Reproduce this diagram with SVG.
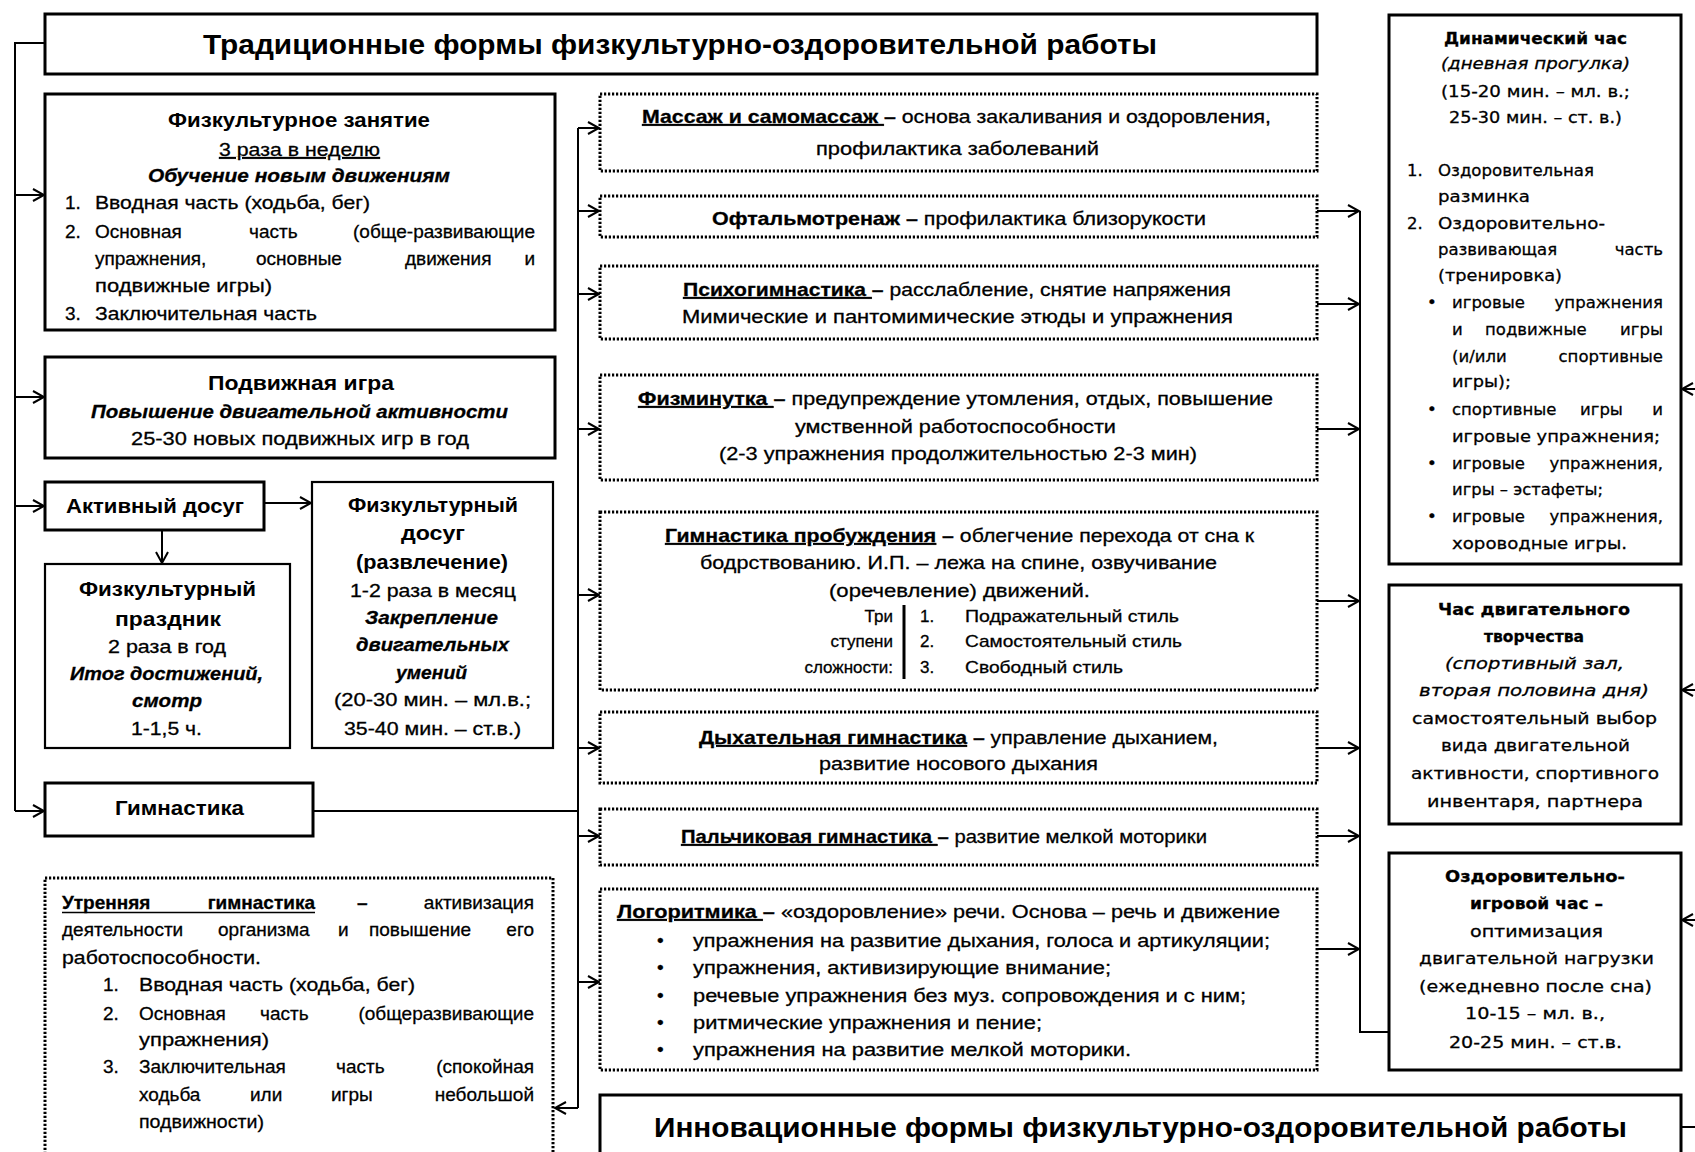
<svg xmlns="http://www.w3.org/2000/svg" width="1695" height="1152" viewBox="0 0 1695 1152">
<defs>
<style>
.t{font-family:"Liberation Sans",Arial,sans-serif;font-size:19px;fill:#000;stroke:#000;stroke-width:0.3}
.h{font-family:"Liberation Sans",Arial,sans-serif;font-size:20px;font-weight:bold;fill:#000}
.v{font-family:"DejaVu Sans",Verdana,sans-serif;font-size:16.5px;fill:#000;stroke:#000;stroke-width:0.3}
.s{font-size:17px}
.big{font-family:"Liberation Sans",Arial,sans-serif;font-size:28px;font-weight:bold;fill:#000}
.b{font-weight:bold}
.i{font-style:italic}
.u{text-decoration:underline}
.e{text-anchor:end}
.solid{fill:#fff;stroke:#000;stroke-width:3}
.thin{fill:#fff;stroke:#000;stroke-width:2.2}
.dot{fill:#fff;stroke:#000;stroke-width:3;stroke-dasharray:2.2 1.8}
.ln{fill:none;stroke:#000;stroke-width:2}
.ar{fill:none;stroke:#000;stroke-width:2;marker-end:url(#arr)}
</style>
<marker id="arr" markerUnits="userSpaceOnUse" markerWidth="14" markerHeight="16" refX="12" refY="7" orient="auto">
<path d="M1,1 L12,7 L1,13" fill="none" stroke="#000" stroke-width="2"/>
</marker>
</defs>
<rect width="1695" height="1152" fill="#fff"/>

<g id="connectors">
<path class="ln" d="M45,43 H15 V811"/>
<path class="ar" d="M15,195 H44"/>
<path class="ar" d="M15,397 H44"/>
<path class="ar" d="M15,506 H44"/>
<path class="ar" d="M15,811 H44"/>
<path class="ar" d="M264,503 H311"/>
<path class="ar" d="M162,531 V563"/>
<path class="ln" d="M313,811 H578"/>
<path class="ln" d="M578,128 V1108"/>
<path class="ar" d="M578,1108 H555"/>
<path class="ar" d="M578,128 H599"/>
<path class="ar" d="M578,211 H599"/>
<path class="ar" d="M578,294 H599"/>
<path class="ar" d="M578,429 H599"/>
<path class="ar" d="M578,595 H599"/>
<path class="ar" d="M578,748 H599"/>
<path class="ar" d="M578,836 H599"/>
<path class="ar" d="M578,982 H599"/>
<path class="ar" d="M1317,211 H1359"/>
<path class="ar" d="M1317,304 H1359"/>
<path class="ar" d="M1317,429 H1359"/>
<path class="ar" d="M1317,601 H1359"/>
<path class="ar" d="M1317,748 H1359"/>
<path class="ar" d="M1317,836 H1359"/>
<path class="ar" d="M1317,949 H1359"/>
<path class="ln" d="M1360,211 V1032 H1389"/>
<path class="ar" d="M1695,389 H1682"/>
<path class="ar" d="M1695,690 H1682"/>
<path class="ar" d="M1695,920 H1682"/>
<path class="ln" d="M1681,1127 H1695"/>
</g>

<g id="title">
<rect class="solid" x="45" y="14" width="1272" height="60"/>
<text class="big" x="203" y="54" textLength="954" lengthAdjust="spacingAndGlyphs">Традиционные формы физкультурно-оздоровительной работы</text>
</g>

<g id="fizkult-zanyatie">
<rect class="solid" x="45" y="94" width="510" height="236" stroke-width="4"/>
<text class="h" x="168" y="127" textLength="262" lengthAdjust="spacingAndGlyphs">Физкультурное занятие</text>
<text class="t u" x="219" y="156" textLength="161" lengthAdjust="spacingAndGlyphs">3 раза в неделю</text>
<text class="t b i" x="148" y="182" textLength="302" lengthAdjust="spacingAndGlyphs">Обучение новым движениям</text>
<text class="t" x="65" y="209">1.</text>
<text class="t" x="95" y="209" textLength="275" lengthAdjust="spacingAndGlyphs">Вводная часть (ходьба, бег)</text>
<text class="t" x="65" y="238">2.</text>
<text class="t" x="95" y="238">Основная</text>
<text class="t" x="249" y="238">часть</text>
<text class="t e" x="535" y="238">(обще-развивающие</text>
<text class="t" x="95" y="265">упражнения,</text>
<text class="t" x="256" y="265">основные</text>
<text class="t" x="405" y="265">движения</text>
<text class="t e" x="535" y="265">и</text>
<text class="t" x="95" y="292" textLength="177" lengthAdjust="spacingAndGlyphs">подвижные игры)</text>
<text class="t" x="65" y="320">3.</text>
<text class="t" x="95" y="320" textLength="222" lengthAdjust="spacingAndGlyphs">Заключительная часть</text>
</g>

<g id="podvizhnaya-igra">
<rect class="solid" x="45" y="357" width="510" height="101" stroke-width="4"/>
<text class="h" x="208" y="390" textLength="186" lengthAdjust="spacingAndGlyphs">Подвижная игра</text>
<text class="t b i" x="91" y="418" textLength="417" lengthAdjust="spacingAndGlyphs">Повышение двигательной активности</text>
<text class="t" x="131" y="445" textLength="338" lengthAdjust="spacingAndGlyphs">25-30 новых подвижных игр в год</text>
</g>

<g id="aktivny-dosug">
<rect class="solid" x="45" y="482" width="219" height="48"/>
<text class="h" x="66" y="513" textLength="178" lengthAdjust="spacingAndGlyphs">Активный досуг</text>
</g>

<g id="fizkult-prazdnik">
<rect class="thin" x="45" y="564" width="245" height="184"/>
<text class="h" x="79" y="596" textLength="177" lengthAdjust="spacingAndGlyphs">Физкультурный</text>
<text class="h" x="115" y="626" textLength="106" lengthAdjust="spacingAndGlyphs">праздник</text>
<text class="t" x="108" y="653" textLength="118" lengthAdjust="spacingAndGlyphs">2 раза в год</text>
<text class="t b i" x="70" y="680" textLength="193" lengthAdjust="spacingAndGlyphs">Итог достижений,</text>
<text class="t b i" x="132" y="707" textLength="70" lengthAdjust="spacingAndGlyphs">смотр</text>
<text class="t" x="131" y="735" textLength="71" lengthAdjust="spacingAndGlyphs">1-1,5 ч.</text>
</g>

<g id="fizkult-dosug">
<rect class="thin" x="312" y="482" width="241" height="266"/>
<text class="h" x="348" y="512" textLength="170" lengthAdjust="spacingAndGlyphs">Физкультурный</text>
<text class="h" x="401" y="540" textLength="64" lengthAdjust="spacingAndGlyphs">досуг</text>
<text class="h" x="356" y="569" textLength="152" lengthAdjust="spacingAndGlyphs">(развлечение)</text>
<text class="t" x="350" y="597" textLength="166" lengthAdjust="spacingAndGlyphs">1-2 раза в месяц</text>
<text class="t b i" x="365" y="624" textLength="133" lengthAdjust="spacingAndGlyphs">Закрепление</text>
<text class="t b i" x="356" y="651" textLength="153" lengthAdjust="spacingAndGlyphs">двигательных</text>
<text class="t b i" x="396" y="679" textLength="71" lengthAdjust="spacingAndGlyphs">умений</text>
<text class="t" x="334" y="706" textLength="197" lengthAdjust="spacingAndGlyphs">(20-30 мин. – мл.в.;</text>
<text class="t" x="344" y="735" textLength="177" lengthAdjust="spacingAndGlyphs">35-40 мин. – ст.в.)</text>
</g>

<g id="gimnastika">
<rect class="solid" x="45" y="783" width="268" height="53"/>
<text class="h" x="115" y="815" textLength="129" lengthAdjust="spacingAndGlyphs">Гимнастика</text>
</g>

<g id="utrennyaya">
<rect class="dot" x="45" y="878" width="508" height="300"/>
<text class="t b" x="62" y="909">Утренняя</text>
<text class="t b e" x="315" y="909">гимнастика</text>
<path d="M62,912.5 H315" stroke="#000" stroke-width="1.6"/>
<text class="t b" x="357" y="909">–</text>
<text class="t e" x="534" y="909">активизация</text>
<text class="t" x="62" y="936">деятельности</text>
<text class="t" x="218" y="936">организма</text>
<text class="t" x="338" y="936">и</text>
<text class="t" x="369" y="936">повышение</text>
<text class="t e" x="534" y="936">его</text>
<text class="t" x="62" y="964" textLength="199" lengthAdjust="spacingAndGlyphs">работоспособности.</text>
<text class="t" x="103" y="991">1.</text>
<text class="t" x="139" y="991" textLength="276" lengthAdjust="spacingAndGlyphs">Вводная часть (ходьба, бег)</text>
<text class="t" x="103" y="1020">2.</text>
<text class="t" x="139" y="1020">Основная</text>
<text class="t" x="260" y="1020">часть</text>
<text class="t e" x="534" y="1020">(общеразвивающие</text>
<text class="t" x="139" y="1046" textLength="130" lengthAdjust="spacingAndGlyphs">упражнения)</text>
<text class="t" x="103" y="1073">3.</text>
<text class="t" x="139" y="1073">Заключительная</text>
<text class="t" x="336" y="1073">часть</text>
<text class="t e" x="534" y="1073">(спокойная</text>
<text class="t" x="139" y="1101">ходьба</text>
<text class="t" x="250" y="1101">или</text>
<text class="t" x="331" y="1101">игры</text>
<text class="t e" x="534" y="1101">небольшой</text>
<text class="t" x="139" y="1128" textLength="125" lengthAdjust="spacingAndGlyphs">подвижности)</text>
</g>

<g id="massazh">
<rect class="dot" x="600" y="94" width="717" height="77"/>
<text class="t" x="642" y="123" textLength="629" lengthAdjust="spacingAndGlyphs"><tspan class="b u">Массаж и самомассаж </tspan><tspan class="b">–</tspan> основа закаливания и оздоровления,</text>
<text class="t" x="816" y="155" textLength="283" lengthAdjust="spacingAndGlyphs">профилактика  заболеваний</text>
</g>

<g id="oftalmotrenazh">
<rect class="dot" x="600" y="196" width="717" height="41"/>
<text class="t" x="712" y="225" textLength="494" lengthAdjust="spacingAndGlyphs"><tspan class="b">Офтальмотренаж –</tspan> профилактика  близорукости</text>
</g>

<g id="psihogimnastika">
<rect class="dot" x="600" y="266" width="717" height="73"/>
<text class="t" x="683" y="296" textLength="548" lengthAdjust="spacingAndGlyphs"><tspan class="b u">Психогимнастика </tspan><tspan class="b">–</tspan> расслабление, снятие напряжения</text>
<text class="t" x="682" y="323" textLength="551" lengthAdjust="spacingAndGlyphs">Мимические и пантомимические этюды и упражнения</text>
</g>

<g id="fizminutka">
<rect class="dot" x="600" y="375" width="717" height="105"/>
<text class="t" x="638" y="405" textLength="635" lengthAdjust="spacingAndGlyphs"><tspan class="b u">Физминутка </tspan><tspan class="b">–</tspan> предупреждение утомления, отдых, повышение</text>
<text class="t" x="795" y="433" textLength="321" lengthAdjust="spacingAndGlyphs">умственной работоспособности</text>
<text class="t" x="719" y="460" textLength="478" lengthAdjust="spacingAndGlyphs">(2-3 упражнения продолжительностью 2-3 мин)</text>
</g>

<g id="probuzhdenie">
<rect class="dot" x="600" y="512" width="717" height="178"/>
<text class="t" x="665" y="542" textLength="589" lengthAdjust="spacingAndGlyphs"><tspan class="b u">Гимнастика пробуждения</tspan><tspan class="b"> –</tspan> облегчение перехода от сна к</text>
<text class="t" x="700" y="569" textLength="517" lengthAdjust="spacingAndGlyphs">бодрствованию. И.П. – лежа на спине, озвучивание</text>
<text class="t" x="829" y="597" textLength="261" lengthAdjust="spacingAndGlyphs">(оречевление) движений.</text>
<text class="t s e" x="893" y="622">Три</text>
<text class="t s e" x="893" y="647">ступени</text>
<text class="t s e" x="893" y="673">сложности:</text>
<path d="M904,605 V679" stroke="#000" stroke-width="3"/>
<text class="t s" x="920" y="622">1.</text>
<text class="t s" x="965" y="622" textLength="214" lengthAdjust="spacingAndGlyphs">Подражательный стиль</text>
<text class="t s" x="920" y="647">2.</text>
<text class="t s" x="965" y="647" textLength="217" lengthAdjust="spacingAndGlyphs">Самостоятельный стиль</text>
<text class="t s" x="920" y="673">3.</text>
<text class="t s" x="965" y="673" textLength="158" lengthAdjust="spacingAndGlyphs">Свободный стиль</text>
</g>

<g id="dyhatelnaya">
<rect class="dot" x="600" y="712" width="717" height="71"/>
<text class="t" x="699" y="744" textLength="519" lengthAdjust="spacingAndGlyphs"><tspan class="b u">Дыхательная гимнастика</tspan><tspan class="b"> –</tspan> управление  дыханием,</text>
<text class="t" x="819" y="770" textLength="279" lengthAdjust="spacingAndGlyphs">развитие носового дыхания</text>
</g>

<g id="palchikovaya">
<rect class="dot" x="600" y="809" width="717" height="56"/>
<text class="t" x="681" y="843" textLength="526" lengthAdjust="spacingAndGlyphs"><tspan class="b u">Пальчиковая гимнастика </tspan><tspan class="b">–</tspan> развитие мелкой моторики</text>
</g>

<g id="logoritmika">
<rect class="dot" x="600" y="889" width="717" height="181"/>
<text class="t" x="617" y="918" textLength="663" lengthAdjust="spacingAndGlyphs"><tspan class="b u">Логоритмика </tspan><tspan class="b">–</tspan> «оздоровление» речи. Основа – речь и  движение</text>
<text class="t" x="657" y="947">•</text>
<text class="t" x="693" y="947" textLength="577" lengthAdjust="spacingAndGlyphs">упражнения на развитие дыхания, голоса и артикуляции;</text>
<text class="t" x="657" y="974">•</text>
<text class="t" x="693" y="974" textLength="418" lengthAdjust="spacingAndGlyphs">упражнения, активизирующие внимание;</text>
<text class="t" x="657" y="1002">•</text>
<text class="t" x="693" y="1002" textLength="553" lengthAdjust="spacingAndGlyphs">речевые упражнения без муз. сопровождения и с ним;</text>
<text class="t" x="657" y="1029">•</text>
<text class="t" x="693" y="1029" textLength="349" lengthAdjust="spacingAndGlyphs">ритмические упражнения и пение;</text>
<text class="t" x="657" y="1056">•</text>
<text class="t" x="693" y="1056" textLength="438" lengthAdjust="spacingAndGlyphs">упражнения на развитие мелкой моторики.</text>
</g>

<g id="innovacionnye">
<rect class="solid" x="600" y="1095" width="1081" height="80"/>
<text class="big" x="654" y="1137" textLength="973" lengthAdjust="spacingAndGlyphs">Инновационные формы физкультурно-оздоровительной работы</text>
</g>

<g id="dinamicheskiy-chas">
<rect class="solid" x="1389" y="15" width="292" height="549"/>
<text class="v b" x="1444" y="44" textLength="183" lengthAdjust="spacingAndGlyphs">Динамический час</text>
<text class="v i" x="1441" y="69" textLength="189" lengthAdjust="spacingAndGlyphs">(дневная прогулка)</text>
<text class="v" x="1441" y="97" textLength="189" lengthAdjust="spacingAndGlyphs">(15-20 мин. – мл. в.;</text>
<text class="v" x="1449" y="123" textLength="173" lengthAdjust="spacingAndGlyphs">25-30 мин. – ст. в.)</text>
<text class="v" x="1407" y="176">1.</text>
<text class="v" x="1438" y="176" textLength="156" lengthAdjust="spacingAndGlyphs">Оздоровительная</text>
<text class="v" x="1438" y="202" textLength="92" lengthAdjust="spacingAndGlyphs">разминка</text>
<text class="v" x="1407" y="229">2.</text>
<text class="v" x="1438" y="229" textLength="167" lengthAdjust="spacingAndGlyphs">Оздоровительно-</text>
<text class="v" x="1438" y="255">развивающая</text>
<text class="v e" x="1663" y="255">часть</text>
<text class="v" x="1438" y="281" textLength="124" lengthAdjust="spacingAndGlyphs">(тренировка)</text>
<text class="v" x="1427" y="308">•</text>
<text class="v" x="1452" y="308">игровые</text>
<text class="v e" x="1663" y="308">упражнения</text>
<text class="v" x="1452" y="335">и</text>
<text class="v" x="1485" y="335">подвижные</text>
<text class="v e" x="1663" y="335">игры</text>
<text class="v" x="1452" y="362">(и/или</text>
<text class="v e" x="1663" y="362">спортивные</text>
<text class="v" x="1452" y="387" textLength="59" lengthAdjust="spacingAndGlyphs">игры);</text>
<text class="v" x="1427" y="415">•</text>
<text class="v" x="1452" y="415">спортивные</text>
<text class="v" x="1580" y="415">игры</text>
<text class="v e" x="1663" y="415">и</text>
<text class="v" x="1452" y="442" textLength="208" lengthAdjust="spacingAndGlyphs">игровые упражнения;</text>
<text class="v" x="1427" y="469">•</text>
<text class="v" x="1452" y="469">игровые</text>
<text class="v e" x="1663" y="469">упражнения,</text>
<text class="v" x="1452" y="495" textLength="151" lengthAdjust="spacingAndGlyphs">игры – эстафеты;</text>
<text class="v" x="1427" y="522">•</text>
<text class="v" x="1452" y="522">игровые</text>
<text class="v e" x="1663" y="522">упражнения,</text>
<text class="v" x="1452" y="549" textLength="175" lengthAdjust="spacingAndGlyphs">хороводные игры.</text>
</g>

<g id="chas-tvorchestva">
<rect class="solid" x="1389" y="585" width="292" height="239"/>
<text class="v b" x="1438" y="615" textLength="192" lengthAdjust="spacingAndGlyphs">Час двигательного</text>
<text class="v b" x="1484" y="642" textLength="100" lengthAdjust="spacingAndGlyphs">творчества</text>
<text class="v i" x="1445" y="669" textLength="179" lengthAdjust="spacingAndGlyphs">(спортивный зал,</text>
<text class="v i" x="1419" y="696" textLength="230" lengthAdjust="spacingAndGlyphs">вторая половина дня)</text>
<text class="v" x="1412" y="724" textLength="245" lengthAdjust="spacingAndGlyphs">самостоятельный выбор</text>
<text class="v" x="1441" y="751" textLength="189" lengthAdjust="spacingAndGlyphs">вида двигательной</text>
<text class="v" x="1411" y="779" textLength="248" lengthAdjust="spacingAndGlyphs">активности, спортивного</text>
<text class="v" x="1427" y="807" textLength="216" lengthAdjust="spacingAndGlyphs">инвентаря, партнера</text>
</g>

<g id="ozdorovitelno-igrovoy">
<rect class="solid" x="1389" y="853" width="292" height="217"/>
<text class="v b" x="1445" y="882" textLength="180" lengthAdjust="spacingAndGlyphs">Оздоровительно-</text>
<text class="v b" x="1470" y="909" textLength="133" lengthAdjust="spacingAndGlyphs">игровой час –</text>
<text class="v" x="1470" y="937" textLength="133" lengthAdjust="spacingAndGlyphs">оптимизация</text>
<text class="v" x="1419" y="964" textLength="235" lengthAdjust="spacingAndGlyphs">двигательной нагрузки</text>
<text class="v" x="1419" y="992" textLength="233" lengthAdjust="spacingAndGlyphs">(ежедневно после сна)</text>
<text class="v" x="1465" y="1019" textLength="140" lengthAdjust="spacingAndGlyphs">10-15 – мл. в.,</text>
<text class="v" x="1449" y="1048" textLength="173" lengthAdjust="spacingAndGlyphs">20-25 мин. – ст.в.</text>
</g>
</svg>
